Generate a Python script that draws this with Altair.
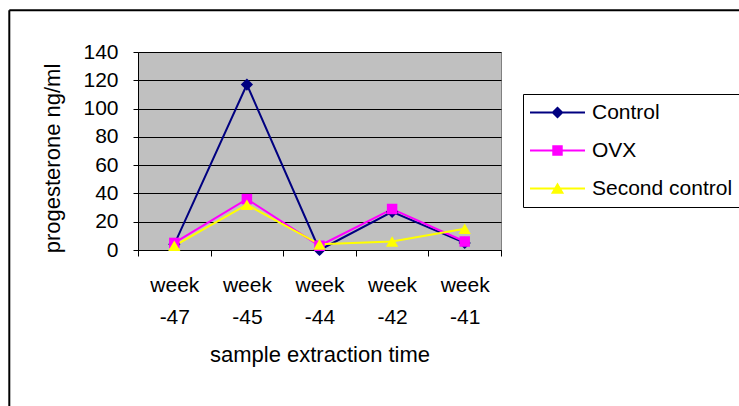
import altair as alt
import pandas as pd

# Sampling weeks (category order on the x axis)
weeks = ["-47", "-45", "-44", "-42", "-41"]

# Progesterone (ng/ml) per group
series_names = ["Control", "OVX", "Second control"]
control = [4, 117, 0, 27, 5]
ovx = [5, 36, 3, 29, 6]
second_control = [3, 32, 4, 6, 15]

y_ticks = [0, 20, 40, 60, 80, 100, 120, 140]

series_colors = ["#000080", "#FF00FF", "#FFFF00"]
marker_shapes = ["diamond", "square", "triangle-up"]
marker_sizes = [150, 110, 150]
# legend glyphs: a thin bar (the line) with the marker drawn on it
legend_glyphs = [
    "M-5,-0.18H5V0.18H-5Z M0,-1.1L1.1,0L0,1.1L-1.1,0Z",
    "M-5,-0.18H5V0.18H-5Z M-0.95,-0.95H0.95V0.95H-0.95Z",
    "M-5,-0.18H5V0.18H-5Z M0,-1.1L1.2,0.95H-1.2Z",
]

rows = []
for name, vals in zip(series_names, [control, ovx, second_control]):
    for w, v in zip(weeks, vals):
        rows.append({"week": w, "series": name, "value": v})
df = pd.DataFrame(rows)

FONT = "Liberation Sans"


def color_scale():
    return alt.Scale(domain=series_names, range=series_colors)


x_enc = alt.X(
    "week:N",
    sort=weeks,
    bandPosition=0.5,
    scale=alt.Scale(type="band", paddingInner=0, paddingOuter=0),
    axis=alt.Axis(
        title="sample extraction time",
        labelExpr="datum.label ? ['week', datum.label] : ''",
        labelAngle=0,
        labelLineHeight=32,
        labelPadding=18,
        tickBand="extent",
        tickSize=6,
        titlePadding=17,
    ),
)
y_enc = alt.Y(
    "value:Q",
    scale=alt.Scale(domain=[0, 140], nice=False, zero=True),
    axis=alt.Axis(
        title="progesterone ng/ml",
        values=y_ticks,
        grid=True,
        gridColor="black",
        gridWidth=1,
        tickSize=5,
        labelPadding=15,
        titlePadding=18,
        titleY=106,
    ),
)

base = alt.Chart(df)

lines = base.mark_line(strokeWidth=2).encode(
    x=x_enc,
    y=y_enc,
    color=alt.Color("series:N", scale=color_scale(), legend=None),
    detail="series:N",
)

marker_layers = []
for name, shape, size in zip(series_names, marker_shapes, marker_sizes):
    marker_layers.append(
        base.transform_filter(alt.datum.series == name)
        .mark_point(filled=True, shape=shape, size=size, opacity=1)
        .encode(
            x=x_enc,
            y=y_enc,
            color=alt.Color("series:N", scale=color_scale(), legend=None),
        )
    )

legend_cfg = dict(
    title=None,
    orient="none",
    legendX=385,
    legendY=42,
    padding=8,
    strokeColor="black",
    fillColor="white",
    labelFont=FONT,
    labelFontSize=21,
    labelColor="black",
    symbolSize=121,
    symbolOpacity=1,
    symbolOffset=16,
    labelOffset=24,
    rowPadding=16,
)

# invisible points that only carry the legend (colour + glyph per group)
legend_layer = base.mark_point(filled=True, opacity=0).encode(
    x=x_enc,
    y=y_enc,
    color=alt.Color("series:N", scale=color_scale(), legend=alt.Legend(**legend_cfg)),
    shape=alt.Shape(
        "series:N",
        scale=alt.Scale(domain=series_names, range=legend_glyphs),
        legend=alt.Legend(**legend_cfg),
    ),
)

# outer frame (left and top edges of the chart border)
frame_df = pd.DataFrame({"k": [0]})
frame_top = alt.Chart(frame_df).mark_rule(color="black", strokeWidth=2).encode(
    x=alt.value(-128.7), x2=alt.value(700), y=alt.value(-41.7)
)
frame_left = alt.Chart(frame_df).mark_rule(color="black", strokeWidth=2).encode(
    x=alt.value(-128.7), y=alt.value(-41.7), y2=alt.value(420)
)

chart = (
    alt.layer(lines, *marker_layers, legend_layer, frame_top, frame_left)
    .resolve_scale(shape="independent", color="independent")
    .properties(
        width=363,
        height=198,
        autosize=alt.AutoSizeParams(type="none"),
        padding={"left": 138, "top": 52, "right": 238, "bottom": 156},
        background="white",
    )
    .configure_view(fill="#C0C0C0", stroke="#808080", strokeWidth=1)
    .configure_axis(
        labelFont=FONT,
        labelFontSize=21,
        labelColor="black",
        titleFont=FONT,
        titleFontSize=22,
        titleFontWeight="normal",
        titleColor="black",
        domainColor="black",
        domainWidth=1,
        tickColor="black",
        tickWidth=1,
    )
)

chart.save("out.html", embed_options={"renderer": "svg", "actions": False})
